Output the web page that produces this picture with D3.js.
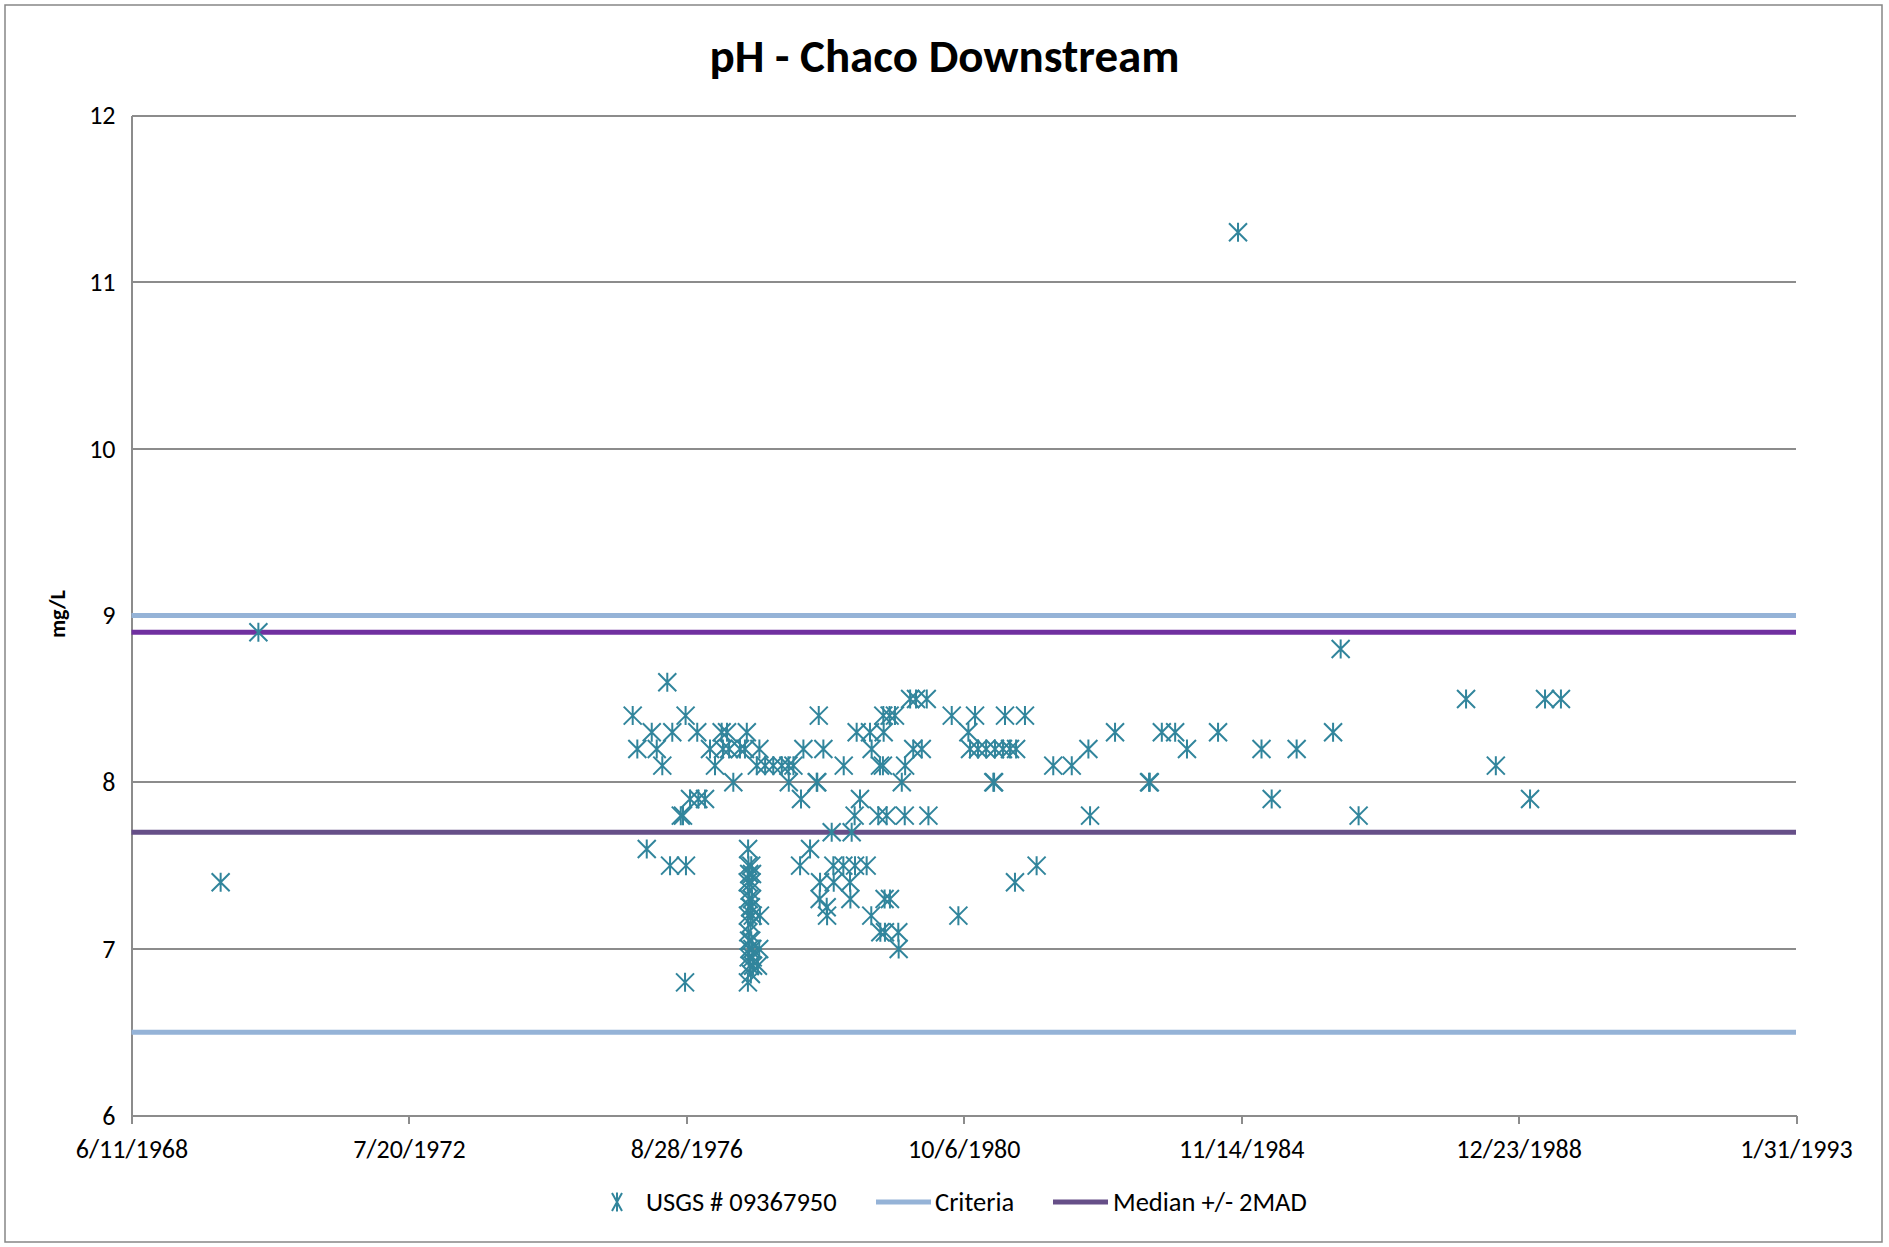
<!DOCTYPE html>
<html>
<head>
    <title>pH - Chaco Downstream</title>
    <meta charset="utf-8">
    <style type="text/css">
        body { margin: 0; background: #fff; }
        svg text { font-family: Carlito, Calibri, Lato, sans-serif; fill: #000; }
        .axis path, .axis line { stroke: #8c8c8c; stroke-width: 2; shape-rendering: crispEdges; }
        .axis text { font-size: 26px; }
        .grid line { stroke: #8c8c8c; stroke-width: 2; shape-rendering: crispEdges; }
        .legend text { font-size: 26.5px; }
    </style>
</head>
<body>
<script src="https://cdn.jsdelivr.net/npm/d3@7"></script>
<script type="text/javascript">
    /*=========DATA=========*/
    var sampleDates = [
        '1969-10-06', '1970-04-28', '1975-11-12', '1975-12-07', '1976-01-27', '1976-02-23', '1976-03-21', '1976-04-20',
        '1976-05-17', '1976-06-01', '1976-06-13', '1976-07-29', '1976-08-10', '1976-08-21', '1976-08-24', '1976-08-26',
        '1976-09-17', '1976-10-26', '1976-11-01', '1976-12-07', '1977-01-03', '1977-01-30', '1977-03-07', '1977-03-14',
        '1977-04-05', '1977-04-16', '1977-05-09', '1977-06-14', '1977-07-11', '1977-07-21',
        '1977-07-28', '1977-07-30', '1977-08-03', '1977-07-26', '1977-08-05', '1977-08-01', '1977-08-08', '1977-07-27',
        '1977-08-10', '1977-07-29', '1977-08-02', '1977-08-04', '1977-07-31', '1977-08-07', '1977-08-12', '1977-07-27',
        '1977-08-14', '1977-08-16', '1977-08-18', '1977-08-22', '1977-08-20', '1977-08-24', '1977-08-18', '1977-08-12',
        '1977-08-14', '1977-08-22',
        '1977-09-13', '1977-09-27', '1977-09-30', '1977-09-26', '1977-09-19', '1977-10-28', '1977-12-11', '1978-01-26',
        '1978-03-03', '1978-03-05', '1978-03-30', '1978-05-05', '1978-05-10', '1978-05-23', '1978-06-28', '1978-08-03',
        '1978-08-06', '1978-08-14', '1978-08-21', '1978-08-19', '1978-09-08', '1978-09-26', '1978-09-28', '1978-10-23',
        '1978-11-01', '1978-11-03', '1978-12-25', '1978-12-27', '1979-01-30', '1979-02-01', '1979-02-08', '1979-02-26',
        '1979-02-24', '1979-03-07', '1979-03-25', '1979-04-30', '1979-05-18', '1979-05-27', '1979-05-25', '1979-07-02',
        '1979-07-11', '1979-07-13', '1979-07-29', '1979-07-31', '1979-07-27', '1979-08-07', '1979-08-05', '1979-09-03',
        '1979-08-16', '1979-09-01', '1979-09-30', '1979-10-18', '1979-10-20', '1979-11-06', '1979-11-24', '1979-11-22',
        '1979-12-21', '1980-01-07', '1980-01-22', '1980-02-22', '1980-03-20', '1980-03-29', '1980-08-02', '1980-09-07',
        '1980-10-31', '1980-11-09', '1980-12-22', '1981-02-04', '1981-03-24', '1981-05-06', '1981-06-13', '1981-07-16',
        '1980-12-06', '1981-03-15', '1981-03-19', '1981-05-17', '1981-07-10', '1981-09-02', '1981-11-04', '1982-02-02',
        '1982-05-13', '1982-08-11', '1982-08-20', '1983-01-02', '1983-07-05', '1983-07-09', '1983-09-12', '1983-11-23',
        '1984-01-26', '1984-07-12', '1984-10-28', '1985-03-04', '1985-04-28', '1985-09-10', '1986-03-26', '1986-05-06',
        '1986-08-11', '1988-03-14', '1988-08-22', '1989-02-23', '1989-05-15', '1989-08-09'
    ];
    var samplePH = [
        7.4, 8.9, 8.4, 8.2, 7.6, 8.3, 8.2, 8.1,
        8.6, 7.5, 8.3, 7.8, 7.8, 6.8, 8.4, 7.5,
        7.9, 8.3, 7.9, 7.9, 8.2, 8.1, 8.3, 8.2,
        8.3, 8.2, 8.0, 8.2, 8.2, 8.3,
        7.6, 7.5, 7.45, 7.4, 7.35, 7.3, 7.25, 7.2,
        7.15, 7.1, 7.05, 7.0, 6.95, 6.9, 6.85, 6.8,
        7.5, 7.4, 7.3, 7.2, 7.0, 6.9, 7.45, 7.25,
        7.05, 6.95,
        8.1, 8.2, 7.2, 7.0, 6.9, 8.1, 8.1, 8.1,
        8.1, 8.0, 8.1, 7.5, 7.9, 8.2, 7.6, 8.0,
        8.0, 8.4, 7.4, 7.3, 8.2, 7.25, 7.2, 7.7,
        7.5, 7.4, 7.5, 8.1, 7.4, 7.3, 7.7, 7.5,
        7.8, 8.3, 7.9, 7.5, 8.3, 8.2, 7.2, 7.8,
        8.1, 7.1, 8.4, 8.3, 8.1, 7.1, 7.3, 7.3,
        7.8, 8.4, 8.4, 7.1, 7.0, 8.0, 8.1, 7.8,
        8.5, 8.2, 8.5, 8.2, 8.5, 7.8, 8.4, 7.2,
        8.3, 8.2, 8.2, 8.2, 8.2, 8.2, 8.2, 8.2,
        8.4, 8.0, 8.0, 8.4, 7.4, 8.4, 7.5, 8.1,
        8.1, 8.2, 7.8, 8.3, 8.0, 8.0, 8.3, 8.3,
        8.2, 8.3, 11.3, 8.2, 7.9, 8.2, 8.3, 8.8,
        7.8, 8.5, 8.1, 7.9, 8.5, 8.5
    ];
    var criteriaLevels = [9.0, 6.5];
    var medianUpper = 8.9;
    var medianLower = 7.7;
    var xTickLabels = ['6/11/1968', '7/20/1972', '8/28/1976', '10/6/1980', '11/14/1984', '12/23/1988', '1/31/1993'];
    var yTicks = [6, 7, 8, 9, 10, 11, 12];
    var legendNames = ['USGS # 09367950', 'Criteria', 'Median +/- 2MAD'];

    /*=========COLOR=========*/
    var markerColor = '#31859c';
    var criteriaColor = '#95b3d7';
    var upperColor = '#7030a0';
    var lowerColor = '#664f88';

    /*=========SIZE=========*/
    var svgWidth = 1889, svgHeight = 1247;
    var plot = { left: 131.5, right: 1796, top: 115.5, bottom: 1115.7 };

    var parseDate = d3.utcParse('%Y-%m-%d');
    var parseTick = d3.utcParse('%m/%d/%Y');
    var fmtTick = d3.utcFormat('%-m/%-d/%Y');
    var tickDates = xTickLabels.map(parseTick);
    var points = sampleDates.map((d, i) => ({ date: parseDate(d), value: samplePH[i] }));

    var xScale = d3.scaleUtc().domain([tickDates[0], tickDates[tickDates.length - 1]]).range([plot.left, plot.right]);
    var yScale = d3.scaleLinear().domain([6, 12]).range([plot.bottom, plot.top]);

    var svg = d3.select('body').append('svg').attr('width', svgWidth).attr('height', svgHeight);
    svg.append('rect').attr('width', svgWidth).attr('height', svgHeight).attr('fill', '#fff');
    svg.append('rect').attr('x', 5).attr('y', 5).attr('width', 1877).attr('height', 1237)
        .attr('fill', 'none').attr('stroke', '#868686').attr('stroke-width', 1.5);

    // 标题
    svg.append('text').attr('x', 944.5).attr('y', 72).attr('text-anchor', 'middle')
        .style('font-size', '47px').style('font-weight', 'bold').text('pH - Chaco Downstream');

    svg.append('text').attr('transform', 'translate(65,614) rotate(-90)').attr('text-anchor', 'middle')
        .style('font-size', '22px').style('font-weight', 'bold').text('mg/L');

    // 网格线
    svg.append('g').attr('class', 'grid').selectAll('line').data(yTicks.slice(1)).enter().append('line')
        .attr('x1', plot.left).attr('x2', plot.right)
        .attr('y1', d => yScale(d)).attr('y2', d => yScale(d));

    // 坐标轴
    var xAxis = d3.axisBottom(xScale).tickValues(tickDates).tickFormat(fmtTick).tickSize(8).tickSizeOuter(0).tickPadding(16);
    svg.append('g').attr('class', 'x axis').attr('transform', 'translate(0,' + plot.bottom + ')').call(xAxis);

    var yAxis = d3.axisLeft(yScale).tickValues(yTicks).tickFormat(d3.format('d')).tickSize(0).tickPadding(16);
    svg.append('g').attr('class', 'y axis').attr('transform', 'translate(' + plot.left + ',0)').call(yAxis);

    // 参考线
    var hLine = d3.line().x(d => xScale(d[0])).y(d => yScale(d[1]));
    var xDom = xScale.domain();
    var refLines = criteriaLevels.map(v => ({ v: v, color: criteriaColor }))
        .concat([{ v: medianUpper, color: upperColor }, { v: medianLower, color: lowerColor }]);
    svg.append('g').selectAll('path').data(refLines).enter().append('path')
        .attr('d', d => hLine([[xDom[0], d.v], [xDom[1], d.v]]))
        .attr('stroke', d => d.color).attr('stroke-width', 5).attr('fill', 'none');

    // 星号点
    var star = 'M-9,-9L9,9M-9,9L9,-9M0,-9.5L0,9.5';
    svg.append('g').selectAll('path').data(points).enter().append('path')
        .attr('transform', d => 'translate(' + xScale(d.date) + ',' + yScale(d.value) + ')')
        .attr('d', star).attr('fill', 'none').attr('stroke', markerColor).attr('stroke-width', 2);

    // 图例
    var lg = svg.append('g').attr('class', 'legend').attr('transform', 'translate(0,1202)');
    lg.append('path').attr('transform', 'translate(617,0)').attr('d', 'M-5,-9L5,9M-5,9L5,-9M0,-9.5L0,9.5')
        .attr('stroke', markerColor).attr('stroke-width', 2).attr('fill', 'none');
    lg.append('text').attr('x', 646).attr('dy', '0.35em').text(legendNames[0]);
    lg.append('line').attr('x1', 876).attr('x2', 931).attr('stroke', criteriaColor).attr('stroke-width', 5);
    lg.append('text').attr('x', 935).attr('dy', '0.35em').text(legendNames[1]);
    lg.append('line').attr('x1', 1053).attr('x2', 1108).attr('stroke', lowerColor).attr('stroke-width', 5);
    lg.append('text').attr('x', 1113).attr('dy', '0.35em').text(legendNames[2]);
</script>
</body>
</html>
